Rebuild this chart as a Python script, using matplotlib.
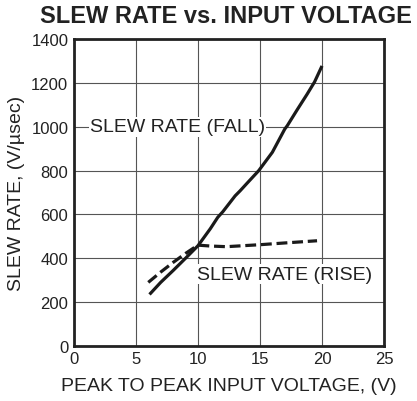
import matplotlib.pyplot as plt
import numpy as np

plt.rcParams['font.family'] = ['Liberation Sans', 'DejaVu Sans']

# slew rate (fall) - solid
fall_v = [6.1, 7, 8, 9, 10, 11, 11.6, 12, 13, 13.4, 14, 14.9, 16, 17, 17.2, 18, 18.8, 19.4, 20]
fall_sr = [235, 290, 344, 400, 457, 535, 587, 612, 685, 708, 745, 800, 884, 990, 1005, 1078, 1149, 1205, 1278]

# slew rate (rise) - dashed
rise_v = [6.0, 7, 8, 9, 10, 11, 12.3, 15, 17, 19.6]
rise_sr = [290, 337, 381, 422, 460, 456, 453, 462, 470, 480]

xticks = [0, 5, 10, 15, 20, 25]
yticks = [0, 200, 400, 600, 800, 1000, 1200, 1400]

fig = plt.figure(figsize=(4.17, 4.02), dpi=100)
ax = fig.add_axes([0.177, 0.137, 0.744, 0.763])

ax.plot(fall_v, fall_sr, color='#1a1a1a', lw=2.3, solid_capstyle='butt', zorder=3)
ax.plot(rise_v, rise_sr, color='#1a1a1a', lw=2.3, ls=(0, (3.4, 1.5)), zorder=3)

ax.set_xlim(0, 25)
ax.set_ylim(0, 1400)
ax.set_xticks(xticks)
ax.set_yticks(yticks)
ax.grid(True, color='#555555', lw=0.8)
ax.tick_params(length=0, labelsize=12, pad=4, colors='#222222')
for s in ax.spines.values():
    s.set_linewidth(2)
    s.set_color('#222222')

ax.text(1.3, 1000, 'SLEW RATE (FALL)', fontsize=14, va='center', ha='left', color='#222222',
        bbox=dict(facecolor='white', edgecolor='none', pad=1), zorder=2)
ax.text(9.9, 328, 'SLEW RATE (RISE)', fontsize=14, va='center', ha='left', color='#222222',
        bbox=dict(facecolor='white', edgecolor='none', pad=1), zorder=2)

fig.suptitle('SLEW RATE vs. INPUT VOLTAGE', x=0.543, y=0.958, va='center',
             fontsize=17, fontweight='bold', color='#222222')
ax.set_xlabel('PEAK TO PEAK INPUT VOLTAGE, (V)', fontsize=14, color='#222222')
ax.set_ylabel('SLEW RATE, (V/µsec)', fontsize=14, color='#222222')
ax.xaxis.set_label_coords(0.5, -0.13)
ax.yaxis.set_label_coords(-0.184, 0.5)
ax.xaxis.label.set_va('center')
ax.yaxis.label.set_va('center')

fig.savefig('out.png', dpi=100)
